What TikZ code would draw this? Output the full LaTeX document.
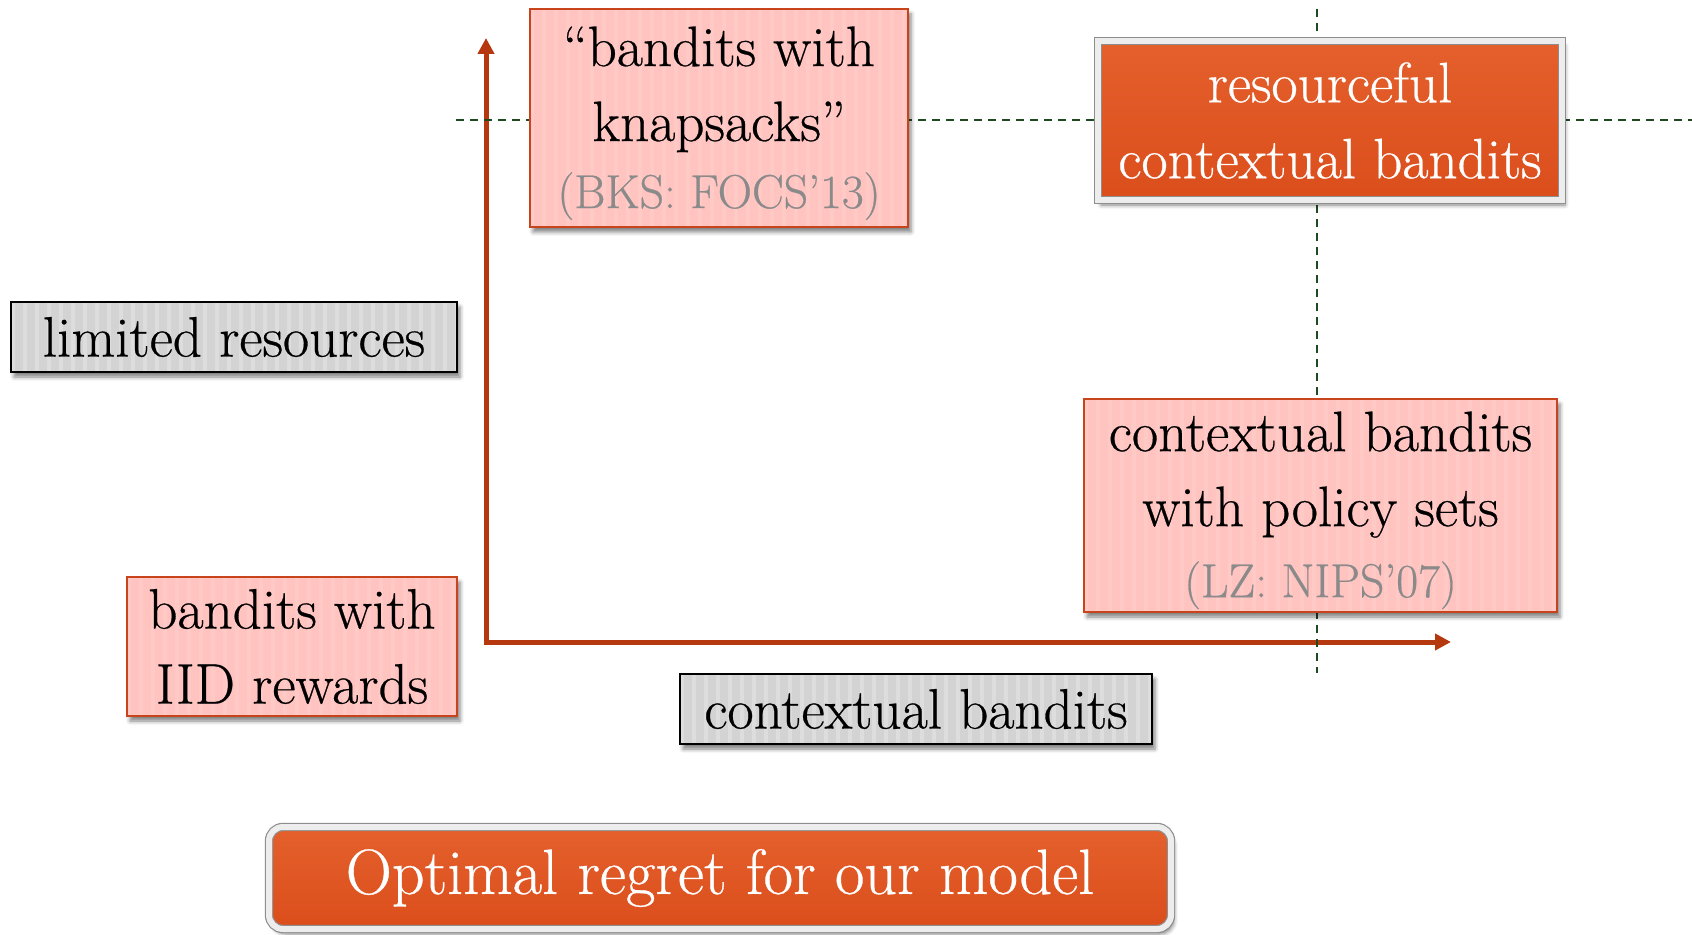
\documentclass[tikz,border=0pt]{standalone}
\usepackage{fontspec}
\setmainfont{Latin Modern Roman}[FakeBold=0.5]
\usetikzlibrary{arrows.meta,shadows.blur}
\definecolor{pinkfill}{HTML}{FFC3C0}
\definecolor{pinkstripe}{HTML}{FFC9C6}
\definecolor{pinkline}{HTML}{C8441C}
\definecolor{grayfill}{HTML}{D3D3D3}
\definecolor{graystripe}{HTML}{DDDDDD}
\definecolor{orangetop}{HTML}{E4602C}
\definecolor{orangebot}{HTML}{DB4E1C}
\definecolor{axiscol}{HTML}{B5380E}
\definecolor{dashcol}{HTML}{1F4A1F}
\definecolor{subgray}{HTML}{8A8A8A}
\definecolor{framegray}{HTML}{8E8E8E}
\definecolor{framelight}{HTML}{EDEDED}
\begin{document}
\begin{tikzpicture}[x=0.5pt,y=-0.5pt,
  every node/.style={inner sep=0pt, align=center},
  stripes/.style={path picture={
    \foreach \k in {0,...,48}{
      \fill[#1] ([xshift=\k*6pt]path picture bounding box.south west) rectangle ++(2.2pt,300pt);
    }}},
  shade/.style={blur shadow={shadow xshift=1.5pt, shadow yshift=-2.5pt, shadow blur radius=2pt, shadow opacity=50}},
  mainfont/.style={font=\fontsize{28.5}{37.5}\selectfont},
  pinkbox/.style={shade, draw=pinkline, line width=1pt, fill=pinkfill, stripes=pinkstripe, mainfont},
  graybox/.style={shade, draw=black, line width=1.2pt, fill=grayfill, stripes=graystripe, mainfont},
  orangebox/.style={shade, draw=framegray, double=framelight, double distance=3pt, line width=0.6pt,
    top color=orangetop, bottom color=orangebot, text=white},
  dashline/.style={draw=dashcol, line width=1pt, dash pattern=on 4pt off 3pt},
  axis/.style={draw=axiscol, line width=2.5pt, {Triangle[length=8pt,width=8pt]}-{Triangle[length=8pt,width=8pt]}}
]
\useasboundingbox (0,0) rectangle (1692,935);
% guide lines
\coordinate (hl) at (456,120);
\coordinate (hr) at (1692,120);
\coordinate (vt) at (1317,9);
\coordinate (vb) at (1317,673);
\coordinate (O) at (486,642);
\coordinate (ytip) at (486,38);
\coordinate (xtip) at (1451,642);
\draw[axis] (ytip) -- (O) -- (xtip);
\draw[dashline] (hl) -- (hr);
\draw[dashline] (vt) -- (vb);
% boxes
\node[pinkbox, minimum width=189pt, minimum height=109pt] (knap) at (719,118)
  {\rule{0pt}{25pt}“bandits with\\knapsacks”\\[-4pt]{\fontsize{23.8}{30}\selectfont\color{subgray}(BKS: FOCS’13)}};
\node[orangebox, minimum width=232pt, minimum height=79.5pt, font=\fontsize{28.5}{38}\selectfont] (res) at (1330,120.5)
  {resourceful\\contextual bandits};
\node[graybox, minimum width=223pt, minimum height=35pt] (lim) at (234,337) {limited resources};
\node[pinkbox, minimum width=236.5pt, minimum height=106.5pt] (pol) at (1320.5,505.5)
  {\rule{0pt}{24.6pt}contextual bandits\\with policy sets\\[-2pt]{\fontsize{23.8}{30}\selectfont\color{subgray}(LZ: NIPS’07)}};
\node[pinkbox, minimum width=165pt, minimum height=69.5pt] (iid) at (292,646.5)
  {bandits with\\IID rewards};
\node[graybox, minimum width=236pt, minimum height=35pt] (ctx) at (916,709) {contextual bandits};
\node[orangebox, rounded corners=7pt, minimum width=451pt, minimum height=51pt, font=\fontsize{32}{36}\selectfont] (opt) at (720,878)
  {Optimal regret for our model};
\end{tikzpicture}
\end{document}
